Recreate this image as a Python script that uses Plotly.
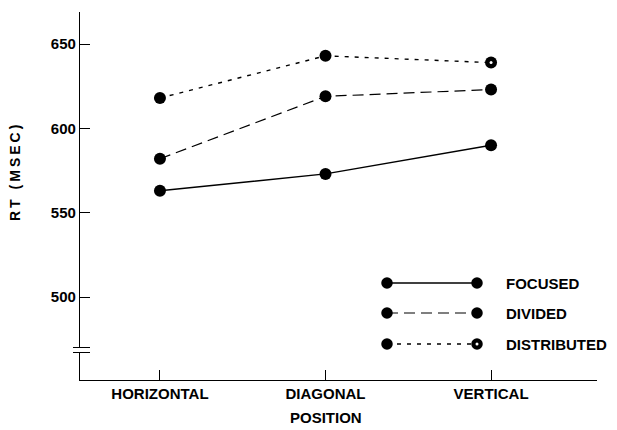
import plotly.graph_objects as go

positions = ["HORIZONTAL", "DIAGONAL", "VERTICAL"]
focused = [563, 573, 590]
divided = [582, 619, 623]
distributed = [618, 643, 639]
series_names = ["FOCUSED", "DIVIDED", "DISTRIBUTED"]
y_ticks = [500, 550, 600, 650]

FONT = "Liberation Sans"
xs = list(range(len(positions)))

fig = go.Figure()
styles = [("solid", 1.4), ("11px,6px", 1.2), ("4px,6px", 1.4)]
for vals, name, (dash, w) in zip([focused, divided, distributed], series_names, styles):
    fig.add_trace(go.Scatter(
        x=xs, y=vals, mode="lines+markers", name=name,
        line=dict(color="black", width=w, dash=dash),
        marker=dict(color="black", size=12),
        showlegend=False,
    ))
# small white centre on last distributed point
fig.add_trace(go.Scatter(x=[xs[-1]], y=[distributed[-1]], mode="markers",
                         marker=dict(color="white", size=3), showlegend=False, hoverinfo="skip"))

# custom legend
PW, PH = 517, 368
def px(x):
    return (x - 80) / PW
def py(y):
    return (380 - y) / PH

leg_y = [py(283), py(313), py(344)]
lx0, lx1 = px(387), px(477)
for i, ((dash, w), name, yy) in enumerate(zip(styles, series_names, leg_y)):
    fig.add_shape(type="line", xref="paper", yref="paper", x0=lx0, x1=lx1, y0=yy, y1=yy,
                  line=dict(color="black", width=w, dash=dash))
    for xx in (lx0, lx1):
        fig.add_shape(type="circle", xref="paper", yref="paper",
                      x0=xx - 11.5 / PW / 2, x1=xx + 11.5 / PW / 2,
                      y0=yy - 11.5 / PH / 2, y1=yy + 11.5 / PH / 2,
                      fillcolor="black", line=dict(color="black", width=0))
    if i == 2:
        fig.add_shape(type="circle", xref="paper", yref="paper",
                      x0=lx1 - 1.5 / PW, x1=lx1 + 1.5 / PW,
                      y0=yy - 1.5 / PH, y1=yy + 1.5 / PH,
                      fillcolor="white", line=dict(width=0))
    fig.add_annotation(xref="paper", yref="paper", x=px(504), y=yy, text=name, showarrow=False,
                       xanchor="left", yanchor="middle",
                       font=dict(family=FONT, size=15, color="black", weight="bold"))

# axis titles
fig.add_annotation(xref="paper", yref="paper", x=px(15), y=py(172),
                   text='<span style="letter-spacing:3px">RT (MSEC)</span>',
                   textangle=-90, showarrow=False, xanchor="center", yanchor="middle",
                   font=dict(family=FONT, size=14, color="black", weight="bold"))
fig.add_annotation(xref="paper", yref="paper", x=px(326), y=py(418), text="POSITION",
                   showarrow=False, xanchor="center", yanchor="middle",
                   font=dict(family=FONT, size=15, color="black", weight="bold"))

# axis break marks
fig.add_shape(type="rect", xref="paper", yref="paper", x0=-0.006, x1=0.006,
              y0=py(352), y1=py(348), fillcolor="white", line=dict(width=0))
for yb in (347.5, 352.5):
    fig.add_shape(type="line", xref="paper", yref="paper", x0=-7 / PW, x1=10 / PW,
                  y0=py(yb), y1=py(yb), line=dict(color="black", width=1))

fig.update_layout(
    width=617, height=430,
    margin=dict(l=80, r=20, t=12, b=50, autoexpand=False),
    paper_bgcolor="white", plot_bgcolor="white",
    font=dict(family=FONT, color="black"),
    xaxis=dict(
        range=[-0.483, 2.64], tickmode="array", tickvals=xs, ticktext=positions,
        showline=True, linecolor="black", linewidth=1.2, ticks="inside", ticklen=10,
        tickcolor="black", showgrid=False, zeroline=False, automargin=False,
        tickfont=dict(family=FONT, size=15, color="black", weight="bold"),
    ),
    yaxis=dict(
        range=[450.8, 669], tickmode="array", tickvals=y_ticks,
        showline=True, linecolor="black", linewidth=1.2, ticks="inside", ticklen=10,
        tickcolor="black", showgrid=False, zeroline=False, automargin=False,
        tickfont=dict(family=FONT, size=15, color="black", weight="bold"),
    ),
)

fig.write_html("out.html", config={"displayModeBar": False},
               post_script="document.body.style.margin='0';")
